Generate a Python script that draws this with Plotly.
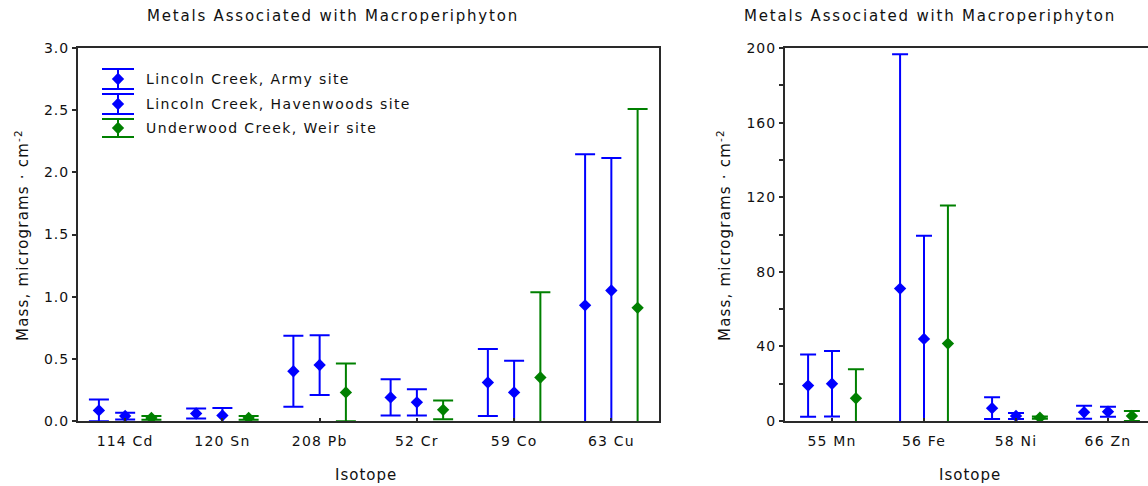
import plotly.graph_objects as go

# ---- data: mean mass (micrograms per cm^2) and +/- error, by isotope ----
trace_isotopes = ["114 Cd", "120 Sn", "208 Pb", "52 Cr", "59 Co", "63 Cu"]
army_trace = [0.085, 0.06, 0.40, 0.19, 0.31, 0.93]
army_trace_err = [0.088, 0.04, 0.285, 0.145, 0.27, 1.215]
haven_trace = [0.04, 0.045, 0.45, 0.15, 0.23, 1.05]
haven_trace_err = [0.027, 0.06, 0.24, 0.105, 0.255, 1.065]
weir_trace = [0.025, 0.025, 0.23, 0.09, 0.35, 0.91]
weir_trace_err = [0.015, 0.015, 0.232, 0.075, 0.685, 1.6]

major_isotopes = ["55 Mn", "56 Fe", "58 Ni", "66 Zn"]
army_major = [19.0, 71.0, 6.9, 4.7]
army_major_err = [16.7, 125.6, 5.8, 3.5]
haven_major = [20.0, 44.0, 2.7, 5.0]
haven_major_err = [17.6, 55.3, 1.6, 2.7]
weir_major = [12.2, 41.5, 1.8, 2.7]
weir_major_err = [15.6, 74.0, 0.6, 2.7]

site_names = ["Lincoln Creek, Army site",
              "Lincoln Creek, Havenwoods site",
              "Underwood Creek, Weir site"]

trace_yticks = [0.0, 0.5, 1.0, 1.5, 2.0, 2.5, 3.0]
major_yticks = [0, 40, 80, 120, 160, 200]

# ---- styling ----
W, H = 1148, 486
ML, MR, MT, MB = 78, 0, 48, 65
BLUE = "#0000ff"
GREEN = "#008000"
AXIS = "#2a2a2a"
INK = "#111111"
FONT = "DejaVu Sans"
site_colors = [BLUE, BLUE, GREEN]
left_offsets = [-0.27, 0.0, 0.27]
right_offsets = [-0.26, 0.0, 0.26]


def spaced(text, px_gap):
    return f'<span style="letter-spacing:{px_gap}px">{text}</span>'


def px(x):
    return (x - ML) / (W - ML - MR)


def py(y):
    return (H - MB - y) / (H - MT - MB)


fig = go.Figure()


def add_group(names, series, errors, offsets, xa, ya, cap):
    for vals, errs, off, col in zip(series, errors, offsets, site_colors):
        fig.add_trace(go.Scatter(
            x=[i + off for i in range(len(names))], y=vals,
            xaxis=xa, yaxis=ya, mode="markers", showlegend=False,
            marker=dict(symbol="diamond", size=9.5, color=col, line=dict(width=0)),
            error_y=dict(type="data", array=errs, symmetric=True,
                         color=col, thickness=2, width=cap),
            cliponaxis=True,
        ))


add_group(trace_isotopes, [army_trace, haven_trace, weir_trace],
          [army_trace_err, haven_trace_err, weir_trace_err],
          left_offsets, "x", "y", 10)
add_group(major_isotopes, [army_major, haven_major, weir_major],
          [army_major_err, haven_major_err, weir_major_err],
          right_offsets, "x2", "y2", 8)

# legend keys drawn on a pixel-unit overlay of the left panel
key_x = 118
key_y = [79, 104, 128]
key_half = [10, 10, 9]
for name, yk, hk, col in zip(site_names, key_y, key_half, site_colors):
    fig.add_trace(go.Scatter(
        x=[key_x], y=[yk], xaxis="x3", yaxis="y3", mode="markers",
        showlegend=False, hoverinfo="skip",
        marker=dict(symbol="diamond", size=9.5, color=col, line=dict(width=0)),
        error_y=dict(type="data", array=[hk], color=col, thickness=2, width=16),
    ))
    fig.add_annotation(x=144, y=yk, xref="x3", yref="y3", text=spaced(name, 1.4),
                       showarrow=False, xanchor="left", yanchor="middle",
                       align="left", font=dict(family=FONT, size=14, color=INK))

left_dom = [0, px(659)]
right_dom = [px(785), 1]

axis_common = dict(showline=True, linecolor=AXIS, linewidth=2, showgrid=False,
                   zeroline=False, tickcolor=AXIS, tickwidth=1.5,
                   tickfont=dict(family=FONT, size=14, color=INK))
x_ticks = dict(ticks="inside", ticklen=3, ticklabelstandoff=6)
y_ticks = dict(ticks="outside", ticklen=4)

fig.update_layout(
    width=W, height=H,
    margin=dict(l=ML, r=MR, t=MT, b=MB, pad=0),
    paper_bgcolor="white", plot_bgcolor="white",
    showlegend=False,
    xaxis=dict(domain=left_dom, range=[-0.485, 5.49], anchor="y",
               tickvals=list(range(len(trace_isotopes))),
               ticktext=[spaced(t, 1.2) for t in trace_isotopes],
               mirror=True, **x_ticks, **axis_common),
    yaxis=dict(domain=[0, 1], range=[0, 3], anchor="x",
               tickvals=trace_yticks,
               ticktext=[spaced(f"{v:.1f}", 1) for v in trace_yticks],
               mirror=True, **y_ticks, **axis_common),
    xaxis2=dict(domain=right_dom, range=[-0.511, 3.435], anchor="y2",
                tickvals=list(range(len(major_isotopes))),
                ticktext=[spaced(t, 1.2) for t in major_isotopes],
                mirror=True, **x_ticks, **axis_common),
    yaxis2=dict(domain=[0, 1], range=[0, 200], anchor="x2",
                tickvals=major_yticks,
                ticktext=[spaced(str(v), 1) for v in major_yticks],
                minor=dict(dtick=20, ticks="outside", ticklen=4,
                           tickcolor=AXIS, tickwidth=1.5, showgrid=False),
                mirror=False, **y_ticks, **axis_common),
    xaxis3=dict(overlaying="x", anchor="y3", range=[78, 659], visible=False),
    yaxis3=dict(overlaying="y", anchor="x3", range=[421, 48], visible=False),
)

title = spaced("Metals Associated with Macroperiphyton", 1.8)
ylabel = spaced("Mass, micrograms · cm<sup>-2</sup>", 1.2)
xlabel = spaced("Isotope", 1)
text_font = dict(family=FONT, size=15, color=INK)

for cx in (333, 930):
    fig.add_annotation(x=px(cx), y=py(16), xref="paper", yref="paper",
                       text=title, showarrow=False, xanchor="center",
                       yanchor="middle", font=text_font)
for cx in (366, 970):
    fig.add_annotation(x=px(cx), y=py(475), xref="paper", yref="paper",
                       text=xlabel, showarrow=False, xanchor="center",
                       yanchor="middle", font=text_font)
for cx in (22, 724):
    fig.add_annotation(x=px(cx), y=py(235), xref="paper", yref="paper",
                       text=ylabel, textangle=-90, showarrow=False,
                       xanchor="center", yanchor="middle", font=text_font)

fig.write_html("out.html")
